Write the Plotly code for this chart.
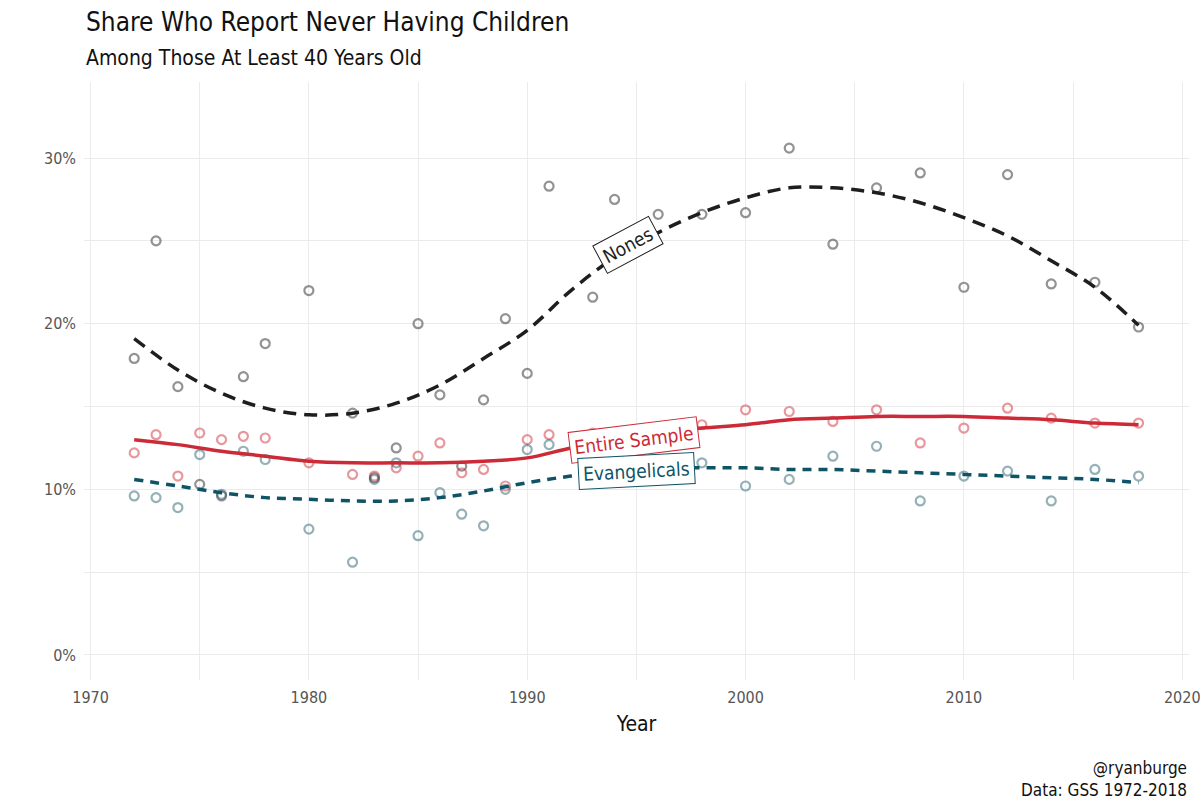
import plotly.graph_objects as go

FONT = "DejaVu Sans Condensed, Liberation Sans Narrow, sans-serif"

# ---- scatter points (percent) ----
nones_years = [1972, 1973, 1974, 1975, 1976, 1977, 1978, 1980, 1982, 1983, 1984, 1985, 1986, 1987, 1988,
               1989, 1990, 1991, 1993, 1994, 1996, 1998, 2000, 2002, 2004, 2006, 2008, 2010, 2012, 2014,
               2016, 2018]
nones_vals = [17.9, 25.0, 16.2, 10.3, 9.6, 16.8, 18.8, 22.0, 14.6, 10.7, 12.5, 20.0, 15.7, 11.4, 15.4,
              20.3, 17.0, 28.3, 21.6, 27.5, 26.6, 26.6, 26.7, 30.6, 24.8, 28.2, 29.1, 22.2, 29.0, 22.4,
              22.5, 19.8]

all_years = [1972, 1973, 1974, 1975, 1976, 1977, 1978, 1980, 1982, 1983, 1984, 1985, 1986, 1987, 1988,
             1989, 1990, 1991, 1993, 1994, 1996, 1998, 2000, 2002, 2004, 2006, 2008, 2010, 2012, 2014,
             2016, 2018]
entire_vals = [12.2, 13.3, 10.8, 13.4, 13.0, 13.2, 13.1, 11.6, 10.9, 10.8, 11.3, 12.0, 12.8, 11.0, 11.2,
               10.2, 13.0, 13.3, 13.4, 13.2, 13.6, 13.9, 14.8, 14.7, 14.1, 14.8, 12.8, 13.7, 14.9, 14.3,
               14.0, 14.0]
evang_vals = [9.6, 9.5, 8.9, 12.1, 9.7, 12.3, 11.8, 7.6, 5.6, 10.6, 11.6, 7.2, 9.8, 8.5, 7.8,
              10.0, 12.4, 12.7, 11.1, 11.4, 11.3, 11.6, 10.2, 10.6, 12.0, 12.6, 9.3, 10.8, 11.1, 9.3,
              11.2, 10.8]

# ---- smoothed trend values (percent) ----
fit_years = [1972, 1974, 1976, 1978, 1980, 1982, 1984, 1986, 1988, 1990, 1992, 1994, 1996, 1998,
             2000, 2002, 2004, 2006, 2008, 2010, 2012, 2014, 2016, 2018]
nones_fit = [19.1, 17.2, 15.8, 14.9, 14.5, 14.6, 15.2, 16.3, 17.9, 19.6, 22.0, 24.0, 25.5, 26.7,
             27.6, 28.2, 28.2, 27.9, 27.3, 26.4, 25.3, 23.8, 22.2, 19.9]
entire_fit = [13.0, 12.7, 12.3, 12.0, 11.7, 11.6, 11.6, 11.6, 11.7, 11.9, 12.5, 13.0, 13.4, 13.7,
              13.9, 14.2, 14.3, 14.4, 14.4, 14.4, 14.3, 14.2, 14.0, 13.9]
evang_fit = [10.6, 10.2, 9.8, 9.5, 9.4, 9.3, 9.3, 9.5, 9.9, 10.4, 10.8, 11.1, 11.3, 11.3,
             11.3, 11.2, 11.2, 11.1, 11.0, 10.9, 10.8, 10.7, 10.6, 10.4]

x_ticks = [1970, 1980, 1990, 2000, 2010, 2020]
y_ticks = [0, 0.1, 0.2, 0.3]


def pct(v):
    return [a / 100 for a in v]


fig = go.Figure()

pts = [
    (nones_years, nones_vals, "rgba(40,40,40,0.5)"),
    (all_years, entire_vals, "rgba(210,50,60,0.5)"),
    (all_years, evang_vals, "rgba(18,82,98,0.45)"),
]
for xs, ys, col in pts:
    fig.add_trace(go.Scatter(
        x=xs, y=pct(ys), mode="markers",
        marker=dict(symbol="circle-open", size=9, color=col, line=dict(width=2.2, color=col)),
        showlegend=False, hoverinfo="skip"))

lines = [
    (nones_fit, "#1e1e1c", "13px,8px"),
    (entire_fit, "#cc2a36", "solid"),
    (evang_fit, "#0f5466", "9px,7px"),
]
for ys, col, dash in lines:
    fig.add_trace(go.Scatter(
        x=fit_years, y=pct(ys), mode="lines",
        line=dict(color=col, width=3.5, dash=dash, shape="spline", smoothing=1.0),
        showlegend=False, hoverinfo="skip"))

labels = [
    ("Nones", 1994.6, 0.2475, -28, "#1e1e1c"),
    ("Entire Sample", 1994.9, 0.1298, -7, "#cc2a36"),
    ("Evangelicals", 1995.0, 0.111, -3, "#0f5466"),
]
annotations = []
for txt, x, y, ang, col in labels:
    annotations.append(dict(
        x=x, y=y, xref="x", yref="y", text=txt, showarrow=False, textangle=ang,
        font=dict(family=FONT, size=19, color=col), bgcolor="white",
        bordercolor=col, borderwidth=1, borderpad=4, xanchor="center", yanchor="middle"))

annotations += [
    dict(x=0, y=1.100, xref="paper", yref="paper", text="Share Who Report Never Having Children",
         showarrow=False, xanchor="left", yanchor="middle",
         font=dict(family=FONT, size=26, color="#111111")),
    dict(x=0, y=1.040, xref="paper", yref="paper", text="Among Those At Least 40 Years Old",
         showarrow=False, xanchor="left", yanchor="middle",
         font=dict(family=FONT, size=21, color="#111111")),
    dict(x=1, y=-0.166, xref="paper", yref="paper", text="@ryanburge<br>Data: GSS 1972-2018",
         showarrow=False, xanchor="right", yanchor="middle", align="right",
         font=dict(family=FONT, size=17, color="#111111")),
]

grid = "#ebebeb"
fig.update_layout(
    width=1200, height=800,
    margin=dict(l=84, r=11, t=82, b=120),
    paper_bgcolor="white", plot_bgcolor="white",
    font=dict(family=FONT),
    annotations=annotations,
    xaxis=dict(
        range=[1969.7, 2020.31], tickvals=x_ticks, ticktext=[str(t) for t in x_ticks],
        showgrid=True, gridcolor=grid, gridwidth=1.3, zeroline=False, showline=False,
        ticks="", ticklabelstandoff=6, automargin=False, ticklabeloverflow="allow",
        tickfont=dict(family=FONT, size=16, color="#555555"),
        minor=dict(tickvals=[1975, 1985, 1995, 2005, 2015], showgrid=True, gridcolor=grid, gridwidth=0.8),
        title=dict(text="Year", font=dict(family=FONT, size=21, color="#111111"), standoff=10),
    ),
    yaxis=dict(
        range=[-0.0151, 0.3459], tickvals=y_ticks, tickformat=".0%",
        showgrid=True, gridcolor=grid, gridwidth=1.3, zeroline=False, showline=False,
        ticks="", ticklabelstandoff=7, automargin=False,
        tickfont=dict(family=FONT, size=16, color="#555555"),
        minor=dict(tickvals=[0.05, 0.15, 0.25], showgrid=True, gridcolor=grid, gridwidth=0.8),
    ),
)

fig.write_html("out.html", config={"displayModeBar": False},
               post_script="document.body.style.margin='0';document.body.style.overflow='hidden';")
